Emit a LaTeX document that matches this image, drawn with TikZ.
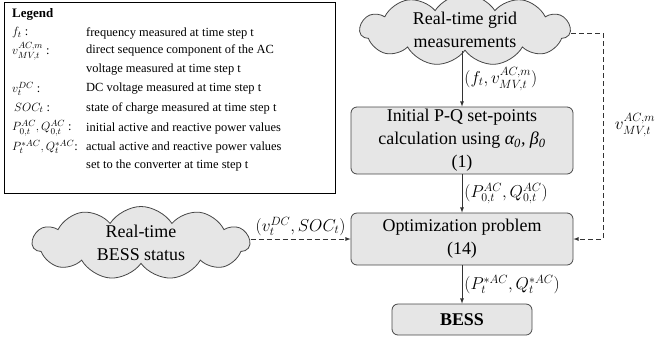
\documentclass[tikz,border=0pt]{standalone}
\usepackage{amsmath}
\usepackage{fontspec}
\setmainfont{Liberation Serif}
\usetikzlibrary{arrows,shapes.symbols}
\definecolor{boxgray}{RGB}{230,230,230}
\definecolor{linegray}{RGB}{70,70,70}

\begin{document}
\begin{tikzpicture}[x=1bp, y=-1bp, >=latex,
    bigtext/.style={font=\fontsize{18}{23}\selectfont},
    labtext/.style={font=\fontsize{17}{22}\selectfont, inner sep=2bp},
    legtext/.style={font=\fontsize{12.5}{19}\selectfont, inner sep=0pt, anchor=west},
    block/.style={bigtext, draw=linegray, fill=boxgray, line width=0.8bp, rounded corners=6bp, align=center, inner sep=0pt},
    cloudbox/.style={bigtext, cloud, cloud puffs=11, cloud puff arc=115, aspect=3, draw=linegray, fill=boxgray, line width=0.8bp, align=center, inner sep=0pt},
    flow/.style={->, line width=0.8bp, draw=black!80},
    dashflow/.style={->, line width=0.8bp, draw=black!80, dash pattern=on 5bp off 3bp}]
    \useasboundingbox (0,0) rectangle (657,337);

    % the legend
    \draw[line width=0.8bp] (4,2) rectangle (335,193);
    \node[legtext, font=\fontsize{13}{19}\selectfont\bfseries] (legtitle) at (12,14) {Legend};
    \node[legtext] (symf) at (12,33) {$f_t$ :};
    \node[legtext] (symv) at (12,51) {$v^{AC,m}_{MV,t}$ :};
    \node[legtext] (symvdc) at (12,89) {$v^{DC}_t$ :};
    \node[legtext] (symsoc) at (14,108) {$SOC_t$ :};
    \node[legtext] (sympq) at (12,128) {$P^{AC}_{0,t}, Q^{AC}_{0,t}$ :};
    \node[legtext] (sympqs) at (12,147) {$P^{*AC}_t, Q^{*AC}_t$:};
    %
    \node[legtext] (descf) at (86,33) {frequency measured at time step t};
    \node[legtext, align=left] (descv) at (86,60) {direct sequence component of the AC\\voltage measured at time step t};
    \node[legtext] (descvdc) at (86,89) {DC voltage measured at time step t};
    \node[legtext] (descsoc) at (86,108) {state of charge measured at time step t};
    \node[legtext] (descpq) at (86,128) {initial active and reactive power values};
    \node[legtext, align=left] (descpqs) at (86,156.5) {actual active and reactive power values\\set to the converter at time step t};

    % the clouds and the blocks
    \node[cloudbox, minimum width=210bp, minimum height=57bp] (grid) at (465,30) {Real-time grid\\measurements};
    \node[cloudbox, minimum width=217bp, minimum height=73bp] (status) at (141,243) {Real-time\\BESS status};
    \node[block, minimum width=222bp, minimum height=67bp] (init) at (462,140.5) {Initial P-Q set-points\\calculation using \textit{α\textsubscript{0}, β\textsubscript{0}}\\(1)};
    \node[block, minimum width=222bp, minimum height=52bp] (opt) at (462,239) {Optimization problem\\(14)};
    \node[block, minimum width=140bp, minimum height=31bp, font=\fontsize{18}{23}\selectfont\bfseries] (bess) at (462,319.5) {BESS};
    \coordinate (gridturn) at (603,33);

    % the arrows
    \draw[flow] (grid.south -| init.north) -- node[right, labtext] (labf) {$(f_t, v^{AC,m}_{MV,t})$} (init.north);
    \draw[flow] (init) -- node[right, labtext] (labpq) {$(P^{AC}_{0,t}, Q^{AC}_{0,t})$} (opt);
    \draw[flow] (opt) -- node[right, labtext] (labpqs) {$(P^{*AC}_t, Q^{*AC}_t)$} (bess);
    \draw[dashflow] (status.east |- opt.west) -- node[above, labtext, inner sep=3bp] (labdc) {$(v^{DC}_t, SOC_t)$} (opt.west);
    \draw[dashflow] (grid.east |- gridturn) -- (gridturn) |- (opt.east);
    \node[labtext] (labv) at (635,125) {$v^{AC,m}_{MV,t}$};
\end{tikzpicture}
\end{document}
